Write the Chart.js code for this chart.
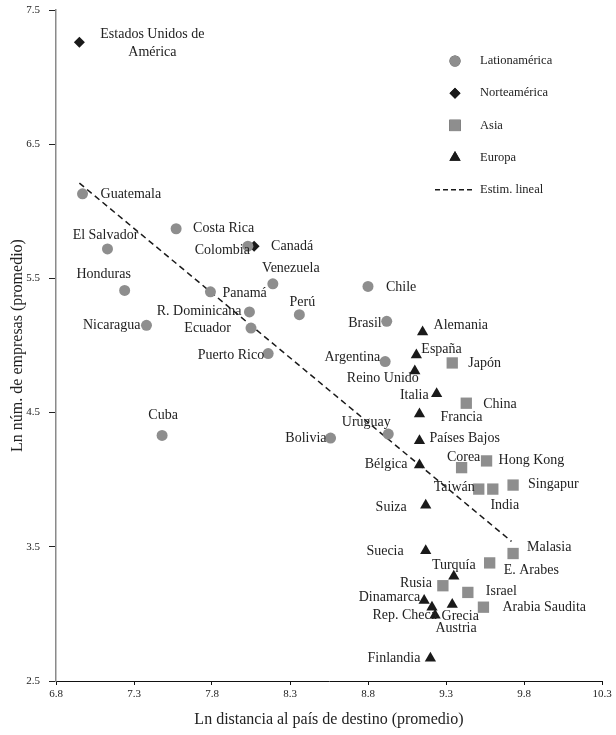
<!DOCTYPE html>
<html>
<head>
<meta charset="utf-8">
<script src="https://cdn.jsdelivr.net/npm/chart.js@4"></script>
<style>
  html, body { margin: 0; padding: 0; background: #fff; }
  #wrap { width: 616px; height: 735px; }
</style>
</head>
<body>
<div id="wrap"><canvas id="chart" width="616" height="735"></canvas></div>
<script>
// Latinoamérica
const latNames = ["Guatemala", "El Salvador", "Costa Rica", "Colombia", "Honduras", "Panamá", "Venezuela",
  "R. Dominicana", "Ecuador", "Nicaragua", "Puerto Rico", "Perú", "Cuba", "Bolivia", "Chile", "Brasil",
  "Argentina", "Uruguay"];
const latX = [6.97, 7.13, 7.57, 8.03, 7.24, 7.79, 8.19, 8.04, 8.05, 7.38, 8.16, 8.36, 7.48, 8.56, 8.80, 8.92, 8.91, 8.93];
const latY = [6.13, 5.72, 5.87, 5.74, 5.41, 5.40, 5.46, 5.25, 5.13, 5.15, 4.94, 5.23, 4.33, 4.31, 5.44, 5.18, 4.88, 4.34];

// Norteamérica
const norNames = ["Estados Unidos de\nAmérica", "Canadá"];
const norX = [6.95, 8.07];
const norY = [7.26, 5.74];

// Asia
const asiaNames = ["Japón", "China", "Hong Kong", "Corea", "Taiwán", "India", "Singapur", "Malasia",
  "E. Arabes", "Rusia", "Israel", "Arabia Saudita"];
const asiaX = [9.34, 9.43, 9.56, 9.40, 9.51, 9.60, 9.73, 9.73, 9.58, 9.28, 9.44, 9.54];
const asiaY = [4.87, 4.57, 4.14, 4.09, 3.93, 3.93, 3.96, 3.45, 3.38, 3.21, 3.16, 3.05];

// Europa
const eurNames = ["Alemania", "España", "Reino Unido", "Italia", "Francia", "Países Bajos", "Bélgica", "Suiza",
  "Suecia", "Turquía", "Dinamarca", "Rep. Checa", "Grecia", "Austria", "Finlandia"];
const eurX = [9.15, 9.11, 9.10, 9.24, 9.13, 9.13, 9.13, 9.17, 9.17, 9.35, 9.16, 9.21, 9.34, 9.23, 9.20];
const eurY = [5.10, 4.93, 4.81, 4.64, 4.49, 4.29, 4.11, 3.81, 3.47, 3.28, 3.10, 3.05, 3.07, 2.99, 2.67];

// Estimación lineal (extremos)
const trendX = [6.95, 9.72];
const trendY = [6.21, 3.54];

const xTicks = [6.8, 7.3, 7.8, 8.3, 8.8, 9.3, 9.8, 10.3];
const yTicks = [2.5, 3.5, 4.5, 5.5, 6.5, 7.5];

const legendLabels = ["Lationamérica", "Norteamérica", "Asia", "Europa", "Estim. lineal"];

// where each name sits around its mark: [align, dx, dy] in px
const labelPos = {
  "Guatemala": ["left", 18, 0], "El Salvador": ["center", -2, -14], "Costa Rica": ["left", 17, 0],
  "Colombia": ["right", 2, 4], "Honduras": ["center", -21, -16], "Panamá": ["left", 12, 2],
  "Venezuela": ["center", 18, -15], "R. Dominicana": ["right", -8, -1], "Ecuador": ["right", -20, 0],
  "Nicaragua": ["right", -6, 0], "Puerto Rico": ["right", -4, 2], "Perú": ["center", 3, -12],
  "Cuba": ["center", 1, -20], "Bolivia": ["right", -4, 0], "Chile": ["left", 18, 1],
  "Brasil": ["right", -5, 2], "Argentina": ["right", -5, -4], "Uruguay": ["center", -22, -12],
  "Estados Unidos de\nAmérica": ["center", 73, -8], "Canadá": ["left", 17, 0],
  "Japón": ["left", 16, 0], "China": ["left", 17, 1], "Hong Kong": ["left", 12, -1],
  "Corea": ["center", 2, -10], "Taiwán": ["right", -4, -2], "India": ["center", 12, 16],
  "Singapur": ["left", 15, -1], "Malasia": ["left", 14, -6], "E. Arabes": ["left", 14, 7],
  "Rusia": ["right", -11, -2], "Israel": ["left", 18, -1], "Arabia Saudita": ["left", 19, 0],
  "Alemania": ["left", 11, -7], "España": ["left", 5, -6], "Reino Unido": ["right", 4, 7],
  "Italia": ["right", -8, 2], "Francia": ["left", 21, 3], "Países Bajos": ["left", 10, -2],
  "Bélgica": ["right", -12, -1], "Suiza": ["right", -19, 2], "Suecia": ["right", -22, 1],
  "Turquía": ["center", 0, -11], "Dinamarca": ["right", -4, -3], "Rep. Checa": ["right", 5, 8],
  "Grecia": ["center", 8, 12], "Austria": ["center", 21, 13], "Finlandia": ["right", -10, 0]
};

const GRAY = "#8e8e8e";
const BLACK = "#1a1a1a";
const SERIF = "'Liberation Serif', 'DejaVu Serif', serif";

function pts(xs, ys) {
  return xs.map((x, i) => ({ x: x, y: ys[i] }));
}

const pointLabels = {
  id: "pointLabels",
  afterDatasetsDraw(chart) {
    const ctx = chart.ctx;
    ctx.save();
    ctx.font = "14px " + SERIF;
    ctx.fillStyle = "#222";
    ctx.textBaseline = "middle";
    chart.data.datasets.forEach((ds, di) => {
      if (!ds.names) return;
      const meta = chart.getDatasetMeta(di);
      meta.data.forEach((el, i) => {
        const name = ds.names[i];
        const pos = labelPos[name] || ["left", 12, 0];
        ctx.textAlign = pos[0];
        name.split("\n").forEach((line, k) => {
          ctx.fillText(line, el.x + pos[1], el.y + pos[2] + k * 18);
        });
      });
    });
    ctx.restore();
  }
};

// legend drawn inside the plot, top right
const boxLegend = {
  id: "boxLegend",
  afterDraw(chart) {
    const ctx = chart.ctx;
    const sx = 455, tx = 480, y0 = 61, gap = 32.2;
    ctx.save();
    ctx.font = "12.5px " + SERIF;
    ctx.fillStyle = "#222";
    ctx.textBaseline = "middle";
    ctx.textAlign = "left";
    legendLabels.forEach((lab, i) => {
      const y = y0 + i * gap;
      const ds = chart.data.datasets[i];
      if (i < 4) {
        Chart.helpers.drawPoint(ctx, {
          pointStyle: ds.pointStyle, radius: ds.pointRadius, rotation: 0, borderWidth: 0
        }, sx, y);
        ctx.fillStyle = ds.backgroundColor;
        ctx.fill();
      } else {
        ctx.strokeStyle = BLACK;
        ctx.lineWidth = 1.5;
        ctx.setLineDash([5, 3]);
        ctx.beginPath();
        ctx.moveTo(435, y);
        ctx.lineTo(474, y);
        ctx.stroke();
        ctx.setLineDash([]);
      }
      ctx.fillStyle = "#222";
      ctx.fillText(lab, tx, y);
    });
    ctx.restore();
  }
};

const ctx = document.getElementById("chart").getContext("2d");
new Chart(ctx, {
  type: "scatter",
  data: {
    datasets: [
      { label: legendLabels[0], names: latNames, data: pts(latX, latY), pointStyle: "circle",
        pointRadius: 5.5, backgroundColor: GRAY, borderWidth: 0 },
      { label: legendLabels[1], names: norNames, data: pts(norX, norY), pointStyle: "rectRot",
        pointRadius: 5.5, backgroundColor: BLACK, borderWidth: 0 },
      { label: legendLabels[2], names: asiaNames, data: pts(asiaX, asiaY), pointStyle: "rect",
        pointRadius: 8, backgroundColor: GRAY, borderWidth: 0 },
      { label: legendLabels[3], names: eurNames, data: pts(eurX, eurY), pointStyle: "triangle",
        pointRadius: 6.5, backgroundColor: BLACK, borderWidth: 0 },
      { type: "line", label: legendLabels[4], data: pts(trendX, trendY), borderColor: BLACK,
        borderWidth: 1.5, borderDash: [6, 4], pointRadius: 0, fill: false, order: 5 }
    ]
  },
  options: {
    responsive: false,
    animation: false,
    devicePixelRatio: 1,
    layout: { padding: { top: 10, right: 14, left: 0, bottom: 0 } },
    plugins: { legend: { display: false }, tooltip: { enabled: false } },
    scales: {
      x: {
        type: "linear", min: 6.8, max: 10.3,
        afterBuildTicks: (s) => { s.ticks = xTicks.map(v => ({ value: v })); },
        afterFit: (s) => { s.height = 54; },
        border: { display: true, color: "#111", width: 1 },
        grid: { display: true, drawOnChartArea: false, drawTicks: true, tickLength: 4, color: "#111" },
        ticks: { padding: 3, color: "#222", font: { family: SERIF, size: 11 },
          callback: (v) => v.toFixed(1) },
        title: { display: true, text: "Ln distancia al país de destino (promedio)", color: "#222",
          font: { family: SERIF, size: 16 }, padding: { top: 0, bottom: 6 } }
      },
      y: {
        type: "linear", min: 2.5, max: 7.5,
        afterBuildTicks: (s) => { s.ticks = yTicks.map(v => ({ value: v })); },
        afterFit: (s) => { s.width = 56; s.paddingTop = 0; s.paddingBottom = 0; },
        border: { display: true, color: "#8a8a8a", width: 1.5 },
        grid: { display: true, drawOnChartArea: false, drawTicks: true, tickLength: 7, color: "#222" },
        ticks: { padding: 9, color: "#222", font: { family: SERIF, size: 11 },
          callback: (v) => v.toFixed(1) },
        title: { display: true, text: "Ln núm. de empresas (promedio)", color: "#222",
          font: { family: SERIF, size: 16 }, padding: { top: 8, bottom: 0 } }
      }
    }
  },
  plugins: [pointLabels, boxLegend]
});
</script>
</body>
</html>
